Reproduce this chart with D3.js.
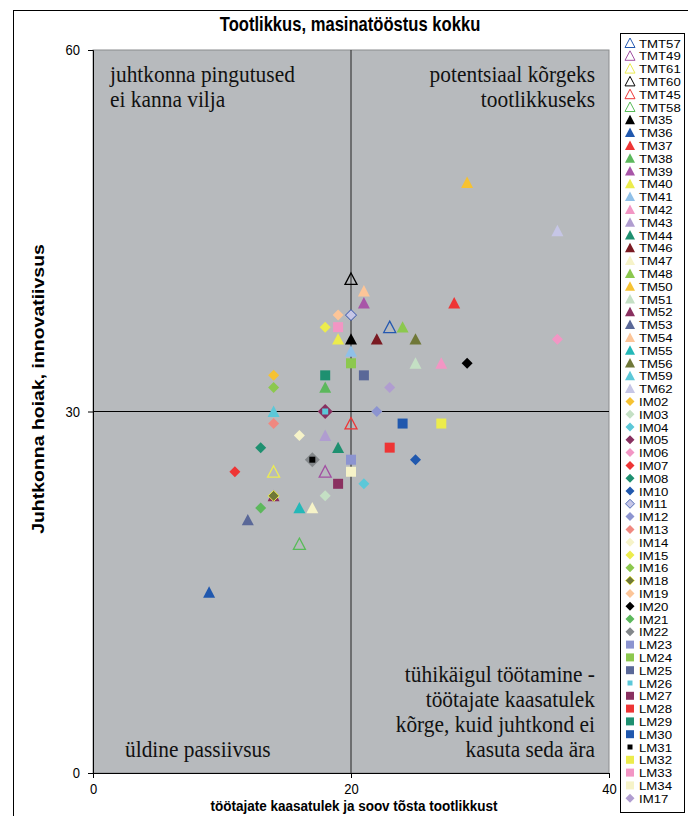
<!DOCTYPE html>
<html>
<head>
<meta charset="utf-8">
<script src="https://cdn.jsdelivr.net/npm/d3@7"></script>
<style>
	body { margin: 0; background: #fff; }
	svg text { font-family: "Liberation Sans", Arial, sans-serif; }
	.quad { font-family: "Liberation Serif", "Times New Roman", serif !important; font-size: 21.4px; fill: #111; }
</style>
</head>
<body>
<svg id="chart" width="688" height="816"></svg>
<script>
"use strict";

// Series in legend order (also drawing order)
var seriesNames = [
	"TMT57", "TMT49", "TMT61", "TMT60", "TMT45", "TMT58",
	"TM35", "TM36", "TM37", "TM38", "TM39", "TM40", "TM41", "TM42", "TM43", "TM44", "TM46",
	"TM47", "TM48", "TM50", "TM51", "TM52", "TM53", "TM54", "TM55", "TM56", "TM59", "TM62",
	"IM02", "IM03", "IM04", "IM05", "IM06", "IM07", "IM08", "IM10", "IM11", "IM12", "IM13",
	"IM14", "IM15", "IM16", "IM18", "IM19", "IM20", "IM21", "IM22",
	"LM23", "LM24", "LM25", "LM26", "LM27", "LM28", "LM29", "LM30", "LM31", "LM32", "LM33", "LM34",
	"IM17"
];
// töötajate kaasatulek
var xValues = [
	23, 18, 14, 20, 20, 16,
	20, 9, 28, 18, 21, 19, 20, 27, 18, 19, 22,
	17, 24, 29, 25, 14, 12, 21, 16, 25, 14, 36,
	14, 18, 21, 18, 36, 11, 13, 25, 20, 22, 14,
	16, 18, 14, 14, 19, 29, 13, 17,
	20, 20, 21, 18, 19, 23, 18, 24, 17, 27, 19, 20,
	23
];
// juhtkonna hoiak
var yValues = [
	37, 25, 25, 41, 29, 19,
	36, 15, 39, 32, 39, 36, 35, 34, 28, 27, 36,
	22, 37, 49, 34, 23, 21, 40, 22, 36, 30, 45,
	33, 23, 24, 30, 36, 25, 27, 26, 38, 30, 29,
	28, 37, 32, 23, 38, 34, 22, 26,
	26, 34, 33, 30, 24, 27, 33, 29, 26, 29, 37, 25,
	32
];
var xTicks = [0, 20, 40];
var yTicks = [0, 30, 60];

var titleText = "Tootlikkus, masinatööstus kokku";
var xLabel = "töötajate kaasatulek ja soov tõsta tootlikkust";
var yLabel = "Juhtkonna hoiak, innovatiivsus";

// Marker colours per series
var colours = {
	TMT57: "#2458b0", TMT49: "#a24fa2", TMT61: "#ecec52", TMT60: "#000000", TMT45: "#ee3535", TMT58: "#58bb58",
	TM35: "#000000", TM36: "#2058ae", TM37: "#ee3535", TM38: "#5cb85c", TM39: "#a855a8", TM40: "#ecec4c",
	TM41: "#90c0e8", TM42: "#f296c4", TM43: "#b09dd0", TM44: "#1e9070", TM46: "#7a1a22", TM47: "#f6f3c8",
	TM48: "#8cc84e", TM50: "#f6c232", TM51: "#c4e0c4", TM52: "#8a3060", TM53: "#5a6898", TM54: "#fcc598",
	TM55: "#24b8b8", TM56: "#707838", TM59: "#5cc8d8", TM62: "#c6c6e6",
	IM02: "#f6c232", IM03: "#c4e0c4", IM04: "#5cc8d8", IM05: "#883060", IM06: "#f296c4", IM07: "#ee3535",
	IM08: "#1e9070", IM10: "#2058ae", IM11: "#c6c6e6", IM12: "#8c94d0", IM13: "#f08880", IM14: "#f6f3c8",
	IM15: "#ecec4c", IM16: "#8cc84e", IM18: "#707838", IM19: "#fcc598", IM20: "#000000", IM21: "#5cb85c",
	IM22: "#83878a",
	LM23: "#8c94d0", LM24: "#8cc84e", LM25: "#5a6898", LM26: "#5cc8d8", LM27: "#8a3060", LM28: "#ee3535",
	LM29: "#1e9070", LM30: "#2058ae", LM31: "#000000", LM32: "#ecec4c", LM33: "#f296c4", LM34: "#f6f3c8",
	IM17: "#b09dd0"
};
// A few markers have an outline of another colour
var outlines = { IM11: "#3050a8", IM18: "#ecec4c" };
// Odd marker sizes in the plot (legend keeps the normal size)
var plotSizes = { IM05: 15, IM22: 15, LM26: 6, LM31: 6 };
var legendSizes = { LM26: 5, LM31: 5 };

// The original picture is stretched a bit vertically, so the texts are too
var stretch = 1.18;

var svg = d3.select("#chart");
var margin = {top: 50, left: 93, right: 79, bottom: 43};
var width = 609 - margin.left,
	height = 773 - margin.top;

function addText(parent, px, py, t, size, anchor, bold, sy) {
	return parent.append("text")
		.attr("transform", "translate(" + px + "," + py + ") scale(1," + (sy || stretch) + ")")
		.attr("text-anchor", anchor)
		.style("font-size", size + "px")
		.style("font-weight", bold ? "bold" : "normal")
		.text(t);
}

// Outer chart frame
svg.append("rect")
	.attr("x", 13.5).attr("y", 10.5)
	.attr("width", 690).attr("height", 820)
	.attr("fill", "#fff").attr("stroke", "#000").attr("stroke-width", 1);

addText(svg, 350, 31, titleText, 16.6, "middle", true);

var chart = svg.append("g")
	.attr("transform", "translate(" + margin.left + "," + margin.top + ")");

var x = d3.scaleLinear().domain([0, 40]).range([0, width]);
var y = d3.scaleLinear().domain([0, 60]).range([height, 0]);

chart.append("rect")
	.attr("width", width).attr("height", height)
	.attr("fill", "#b7babd")
	.attr("stroke", "#8a8c8e");

// Quadrant dividers
chart.append("line")
	.attr("x1", x(20)).attr("x2", x(20)).attr("y1", 0).attr("y2", height)
	.attr("stroke", "#222");
chart.append("line")
	.attr("x1", 0).attr("x2", width).attr("y1", y(30)).attr("y2", y(30))
	.attr("stroke", "#000");

// Axes
var xAxis = chart.append("g")
	.attr("transform", "translate(0," + height + ")")
	.call(d3.axisBottom(x).tickValues(xTicks).tickSize(5).tickPadding(6));
var yAxis = chart.append("g")
	.call(d3.axisLeft(y).tickValues(yTicks).tickSize(5).tickPadding(8));
[xAxis, yAxis].forEach(function (a) {
	a.select(".domain").attr("stroke", "#000");
	a.selectAll("text").style("font-size", "13px").attr("fill", "#000")
		.style("font-family", "'Liberation Sans', Arial, sans-serif");
});
xAxis.selectAll(".tick text").attr("transform", "scale(1,1.1)").attr("dy", "0.6em");
yAxis.selectAll(".tick text").attr("transform", "scale(1,1.1)").attr("dy", "0.32em");

addText(svg, margin.left + x(20) + 3, 811, xLabel, 13.5, "middle", true, 1.05);
svg.append("text")
	.attr("transform", "translate(44,389) rotate(-90) scale(" + stretch + ",1)")
	.attr("text-anchor", "middle")
	.style("font-size", "16.5px").style("font-weight", "bold")
	.text(yLabel);

// Quadrant captions
var quad = chart.append("g");
function caption(lines, px, py, anchor) {
	lines.forEach(function (t, i) {
		addText(quad, px, py + i * 25, t, 21.4, anchor, false, 1.05).attr("class", "quad");
	});
}
caption(["juhtkonna pingutused", "ei kanna vilja"], 17, 31.5, "start");
caption(["potentsiaal kõrgeks", "tootlikkuseks"], width - 14, 31.5, "end");
caption(["tühikäigul töötamine -", "töötajate kaasatulek", "kõrge, kuid juhtkond ei", "kasuta seda ära"], width - 14, 631.5, "end");
caption(["üldine passiivsus"], 32, 706.5, "start");

// Marker shapes from the series prefix
function markerPath(name, s) {
	var h = s / 2;
	if (name.indexOf("TM") === 0) {
		return "M 0," + (-h) + " L " + h + "," + (h * 0.9) + " L " + (-h) + "," + (h * 0.9) + "Z";
	}
	if (name.indexOf("IM") === 0) {
		return "M 0," + (-h) + " L " + h + ",0 L 0," + h + " L " + (-h) + ",0Z";
	}
	return "M " + (-h) + "," + (-h) + " L " + h + "," + (-h) + " L " + h + "," + h + " L " + (-h) + "," + h + "Z";
}
function markerSize(name, big) {
	var special = big ? plotSizes[name] : legendSizes[name];
	if (special) return special;
	if (name.indexOf("TM") === 0) return big ? 12 : 10;
	if (name.indexOf("IM") === 0) return big ? 11 : 9;
	return big ? 10 : 8;
}
function styleMarker(sel) {
	sel.attr("fill", function (d) { return d.indexOf("TMT") === 0 ? "none" : colours[d]; })
		.attr("stroke", function (d) {
			if (d.indexOf("TMT") === 0) return colours[d];
			return outlines[d] || "none";
		})
		.attr("stroke-width", function (d) { return d.indexOf("TMT") === 0 ? 1.3 : 1; });
}

var points = chart.selectAll("path.point")
	.data(seriesNames)
	.enter()
	.append("path")
	.attr("class", "point")
	.attr("transform", function (d, i) { return "translate(" + x(xValues[i]) + "," + y(yValues[i]) + ")"; })
	.attr("d", function (d) { return markerPath(d, markerSize(d, true)); });
styleMarker(points);

// Legend
var legendX = 620, legendY = 33, entryHeight = 12.8;
svg.append("rect")
	.attr("x", legendX + 0.5).attr("y", legendY + 0.5)
	.attr("width", 64).attr("height", 779)
	.attr("fill", "#fff").attr("stroke", "#000");
var legend = svg.append("g").selectAll("g")
	.data(seriesNames)
	.enter()
	.append("g")
	.attr("transform", function (d, i) { return "translate(" + legendX + "," + (legendY + 10 + i * entryHeight) + ")"; });
var lm = legend.append("path")
	.attr("transform", "translate(10,0)")
	.attr("d", function (d) { return markerPath(d, markerSize(d, false)); });
styleMarker(lm);
lm.attr("stroke-width", function (d) { return d.indexOf("TMT") === 0 ? 1 : 0.8; });
legend.append("text")
	.attr("transform", "translate(19,4.5) scale(1.2,1)")
	.style("font-size", "11px")
	.text(function (d) { return d; });
</script>
</body>
</html>
